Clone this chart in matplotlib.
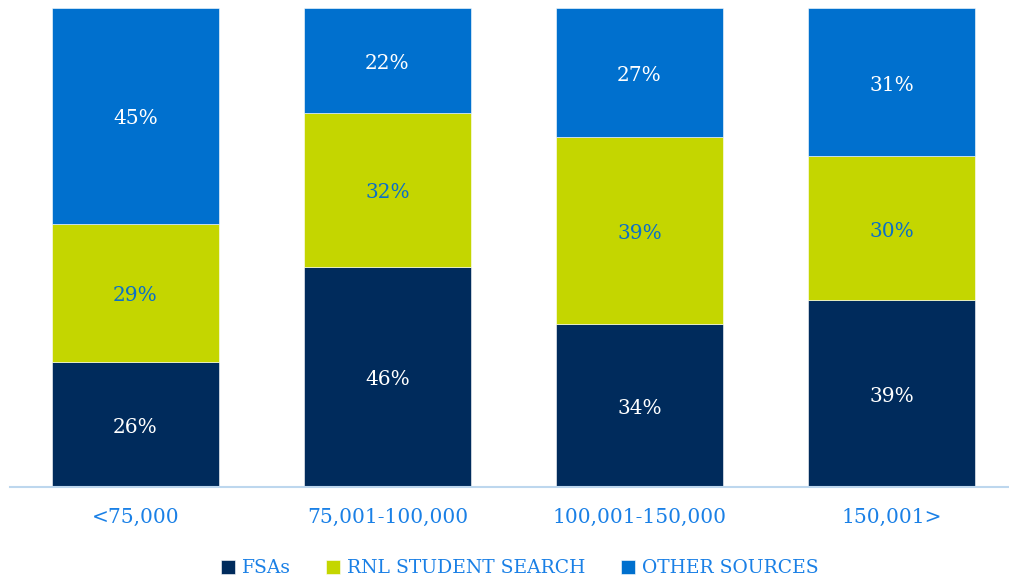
import matplotlib.pyplot as plt
import numpy as np

# Share of sources by income band (percent)
categories = ['<75,000', '75,001-100,000', '100,001-150,000', '150,001>']
series_names = ['FSAs', 'RNL STUDENT SEARCH', 'OTHER SOURCES']
fsas = [26, 46, 34, 39]
rnl = [29, 32, 39, 30]
other = [45, 22, 27, 31]

colors = ['#002B5C', '#C4D600', '#0070CE']
label_colors = ['white', '#0A6FC8', 'white']
text_blue = '#1A80E6'

plt.rcParams['font.family'] = ['DejaVu Serif']

fig = plt.figure(figsize=(10.09, 5.8), dpi=100)
ax = fig.add_axes([9.5 / 1009, 93 / 580, 1008 / 1009, 479 / 580])

x = np.arange(len(categories))
bottom = np.zeros(len(categories))
for name, vals, col, lc in zip(series_names, [fsas, rnl, other], colors, label_colors):
    vals = np.array(vals)
    ax.bar(x, vals, width=0.663, bottom=bottom, color=col, label=name,
           edgecolor='white', linewidth=0.4)
    for xi, b, v in zip(x, bottom, vals):
        ax.text(xi, b + v / 2 - 0.6, f'{v}%', ha='center', va='center',
                color=lc, fontsize=14.5)
    bottom += vals

ax.set_xlim(-0.5, 3.5)
ax.set_ylim(0, 100)
ax.set_yticks([])
ax.set_xticks(x)
ax.set_xticklabels(categories, color=text_blue, fontsize=14.5)
ax.tick_params(axis='x', length=0, pad=15)
for s in ['top', 'right', 'left']:
    ax.spines[s].set_visible(False)
ax.spines['bottom'].set_color('#BDD7EE')
ax.spines['bottom'].set_linewidth(1.5)

leg = fig.legend(loc='center', bbox_to_anchor=(0.515, 0.02), ncol=3,
                 frameon=False, fontsize=13.5, handlelength=0.75,
                 handleheight=0.75, handletextpad=0.35, columnspacing=1.9)
for t in leg.get_texts():
    t.set_color(text_blue)

fig.savefig('out.png', dpi=100)
